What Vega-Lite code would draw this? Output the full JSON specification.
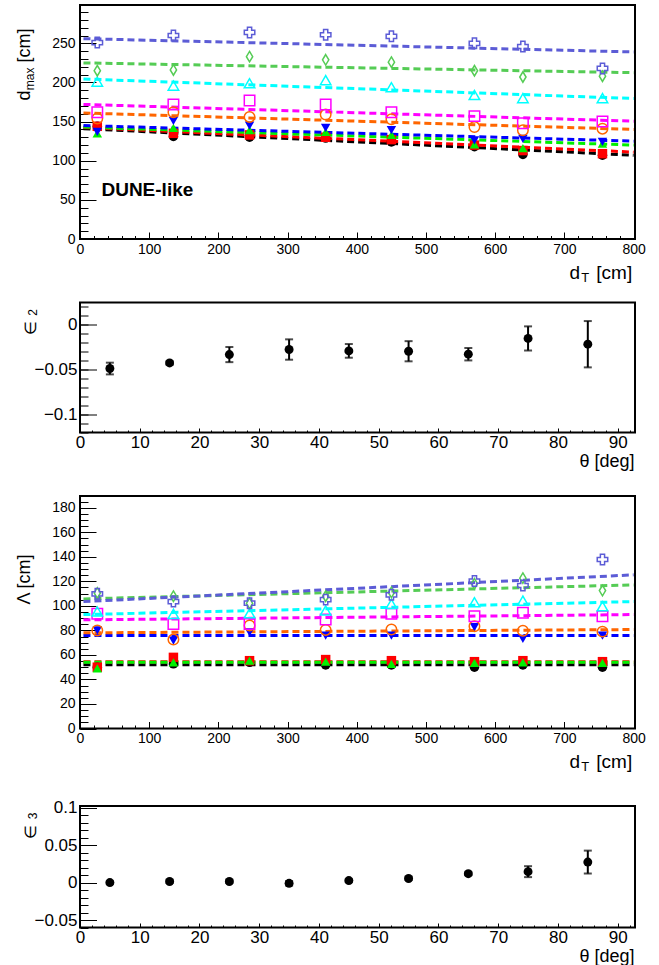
{
  "$schema": "https://vega.github.io/schema/vega-lite/v6.json",
  "padding": {"left": 14, "top": 4, "right": 0, "bottom": 0},
  "bounds": "full",
  "spacing": 22,
  "config": {
    "font": "Liberation Sans",
    "view": {"stroke": "black", "strokeWidth": 2},
    "axis": {"labelFont": "Liberation Sans", "titleFont": "Liberation Sans", "labelColor": "black", "titleColor": "black", "tickColor": "black", "tickWidth": 1, "grid": false, "domain": false, "labelFlush": false, "labelOverlap": false, "titleFontWeight": "normal"}
  },
  "datasets": {
    "dmax": [
      {"s":"5°","x":25,"y":144},{"s":"5°","x":135,"y":131},{"s":"5°","x":245,"y":130},{"s":"5°","x":355,"y":129},{"s":"5°","x":450,"y":124},{"s":"5°","x":570,"y":118},{"s":"5°","x":640,"y":108},{"s":"5°","x":755,"y":107},
      {"s":"15°","x":25,"y":144},{"s":"15°","x":135,"y":135},{"s":"15°","x":245,"y":133},{"s":"15°","x":355,"y":130},{"s":"15°","x":450,"y":127},{"s":"15°","x":570,"y":120},{"s":"15°","x":640,"y":113},{"s":"15°","x":755,"y":109},
      {"s":"25°","x":25,"y":135},{"s":"25°","x":135,"y":142},{"s":"25°","x":245,"y":139},{"s":"25°","x":355,"y":137},{"s":"25°","x":450,"y":133},{"s":"25°","x":570,"y":121},{"s":"25°","x":640,"y":116},{"s":"25°","x":755,"y":122},
      {"s":"35°","x":25,"y":137},{"s":"35°","x":135,"y":151},{"s":"35°","x":245,"y":145},{"s":"35°","x":355,"y":142},{"s":"35°","x":450,"y":139},{"s":"35°","x":570,"y":126},{"s":"35°","x":640,"y":128},{"s":"35°","x":755,"y":124},
      {"s":"45°","x":25,"y":154},{"s":"45°","x":135,"y":162},{"s":"45°","x":245,"y":156},{"s":"45°","x":355,"y":159},{"s":"45°","x":450,"y":153},{"s":"45°","x":570,"y":143},{"s":"45°","x":640,"y":139},{"s":"45°","x":755,"y":141},
      {"s":"55°","x":25,"y":162},{"s":"55°","x":135,"y":172},{"s":"55°","x":245,"y":177},{"s":"55°","x":355,"y":172},{"s":"55°","x":450,"y":162},{"s":"55°","x":570,"y":157},{"s":"55°","x":640,"y":148},{"s":"55°","x":755,"y":150},
      {"s":"65°","x":25,"y":201},{"s":"65°","x":135,"y":196},{"s":"65°","x":245,"y":199},{"s":"65°","x":355,"y":203},{"s":"65°","x":450,"y":194},{"s":"65°","x":570,"y":184},{"s":"65°","x":640,"y":180},{"s":"65°","x":755,"y":180},
      {"s":"75°","x":25,"y":215},{"s":"75°","x":135,"y":216},{"s":"75°","x":245,"y":233},{"s":"75°","x":355,"y":229},{"s":"75°","x":450,"y":226},{"s":"75°","x":570,"y":215},{"s":"75°","x":640,"y":207},{"s":"75°","x":755,"y":208},
      {"s":"85°","x":25,"y":251},{"s":"85°","x":135,"y":260},{"s":"85°","x":245,"y":264},{"s":"85°","x":355,"y":261},{"s":"85°","x":450,"y":259},{"s":"85°","x":570,"y":250},{"s":"85°","x":640,"y":246},{"s":"85°","x":755,"y":218}
    ],
    "dmaxfit": [
      {"s":"5°","x":5,"y":141},{"s":"5°","x":800,"y":107},
      {"s":"15°","x":5,"y":142.5},{"s":"15°","x":800,"y":111},
      {"s":"25°","x":5,"y":143},{"s":"25°","x":800,"y":120},
      {"s":"35°","x":5,"y":145},{"s":"35°","x":800,"y":125},
      {"s":"45°","x":5,"y":161},{"s":"45°","x":800,"y":140},
      {"s":"55°","x":5,"y":172},{"s":"55°","x":800,"y":150.5},
      {"s":"65°","x":5,"y":204.5},{"s":"65°","x":800,"y":179.5},
      {"s":"75°","x":5,"y":225},{"s":"75°","x":800,"y":212.5},
      {"s":"85°","x":5,"y":256},{"s":"85°","x":800,"y":239}
    ],
    "lambda": [
      {"s":"5°","x":25,"y":50},{"s":"5°","x":135,"y":52.7},{"s":"5°","x":245,"y":54},{"s":"5°","x":355,"y":51.8},{"s":"5°","x":450,"y":51.8},{"s":"5°","x":570,"y":50},{"s":"5°","x":640,"y":51.8},{"s":"5°","x":755,"y":50},
      {"s":"15°","x":25,"y":50},{"s":"15°","x":135,"y":58},{"s":"15°","x":245,"y":55.3},{"s":"15°","x":355,"y":56.2},{"s":"15°","x":450,"y":55.3},{"s":"15°","x":570,"y":54.5},{"s":"15°","x":640,"y":55.3},{"s":"15°","x":755,"y":54.5},
      {"s":"25°","x":25,"y":49},{"s":"25°","x":135,"y":54},{"s":"25°","x":245,"y":55.3},{"s":"25°","x":355,"y":54.5},{"s":"25°","x":450,"y":52.7},{"s":"25°","x":570,"y":53.5},{"s":"25°","x":640,"y":54},{"s":"25°","x":755,"y":53.5},
      {"s":"35°","x":25,"y":80},{"s":"35°","x":135,"y":71.7},{"s":"35°","x":245,"y":78.5},{"s":"35°","x":355,"y":75.8},{"s":"35°","x":450,"y":75.8},{"s":"35°","x":570,"y":82.6},{"s":"35°","x":640,"y":73},{"s":"35°","x":755,"y":75.8},
      {"s":"45°","x":25,"y":80},{"s":"45°","x":135,"y":72.5},{"s":"45°","x":245,"y":84},{"s":"45°","x":355,"y":80.4},{"s":"45°","x":450,"y":80.7},{"s":"45°","x":570,"y":83.4},{"s":"45°","x":640,"y":79.8},{"s":"45°","x":755,"y":79},
      {"s":"55°","x":25,"y":93.5},{"s":"55°","x":135,"y":85.3},{"s":"55°","x":245,"y":85.3},{"s":"55°","x":355,"y":88.8},{"s":"55°","x":450,"y":93.5},{"s":"55°","x":570,"y":91.6},{"s":"55°","x":640,"y":94.3},{"s":"55°","x":755,"y":91.6},
      {"s":"65°","x":25,"y":95.4},{"s":"65°","x":135,"y":93.5},{"s":"65°","x":245,"y":94},{"s":"65°","x":355,"y":96.2},{"s":"65°","x":450,"y":101.6},{"s":"65°","x":570,"y":103},{"s":"65°","x":640,"y":104.3},{"s":"65°","x":755,"y":99.7},
      {"s":"75°","x":25,"y":110.6},{"s":"75°","x":135,"y":107.9},{"s":"75°","x":245,"y":102},{"s":"75°","x":355,"y":107.9},{"s":"75°","x":450,"y":111},{"s":"75°","x":570,"y":118},{"s":"75°","x":640,"y":122.6},{"s":"75°","x":755,"y":112.5},
      {"s":"85°","x":25,"y":109.8},{"s":"85°","x":135,"y":103.5},{"s":"85°","x":245,"y":102.2},{"s":"85°","x":355,"y":105.1},{"s":"85°","x":450,"y":109},{"s":"85°","x":570,"y":120.2},{"s":"85°","x":640,"y":116.6},{"s":"85°","x":755,"y":137.8}
    ],
    "lambdafit": [
      {"s":"5°","x":5,"y":52},{"s":"5°","x":800,"y":52},
      {"s":"15°","x":5,"y":54.5},{"s":"15°","x":800,"y":54.5},
      {"s":"25°","x":5,"y":54},{"s":"25°","x":800,"y":54},
      {"s":"35°","x":5,"y":75.8},{"s":"35°","x":800,"y":75.8},
      {"s":"45°","x":5,"y":78},{"s":"45°","x":800,"y":80.7},
      {"s":"55°","x":5,"y":88.6},{"s":"55°","x":800,"y":92.9},
      {"s":"65°","x":5,"y":92.9},{"s":"65°","x":800,"y":103.5},
      {"s":"75°","x":5,"y":105.7},{"s":"75°","x":800,"y":117.1},
      {"s":"85°","x":5,"y":103.5},{"s":"85°","x":800,"y":125.3}
    ],
    "eps2": [
      {"theta":5,"v":-0.049,"err":0.0065},{"theta":15,"v":-0.0428,"err":0.002},{"theta":25,"v":-0.0335,"err":0.0084},{"theta":35,"v":-0.0279,"err":0.0113},{"theta":45,"v":-0.0294,"err":0.0076},{"theta":55,"v":-0.0298,"err":0.0112},{"theta":65,"v":-0.0331,"err":0.0069},{"theta":75,"v":-0.0156,"err":0.0134},{"theta":85,"v":-0.022,"err":0.0257}
    ],
    "eps3": [
      {"theta":5,"v":0.0,"err":0.002},{"theta":15,"v":0.0014,"err":0.002},{"theta":25,"v":0.0014,"err":0.002},{"theta":35,"v":-0.001,"err":0.003},{"theta":45,"v":0.0027,"err":0.002},{"theta":55,"v":0.0055,"err":0.002},{"theta":65,"v":0.0119,"err":0.002},{"theta":75,"v":0.0146,"err":0.0073},{"theta":85,"v":0.0274,"err":0.0153}
    ]
  },
  "vconcat": [
    {
      "bounds": "flush",
      "spacing": 63.5,
      "vconcat": [
        {
          "width": 555, "height": 234,
          "resolve": {"axis": {"x": "independent", "y": "independent"}},
          "layer": [
            {
              "data": {"name": "dmaxfit"},
              "mark": {"type": "line", "strokeWidth": 3, "strokeDash": [7, 4]},
              "encoding": {
                "x": {"field": "x", "type": "quantitative", "scale": {"domain": [0, 802], "nice": false, "zero": false},
                  "axis": {"orient": "bottom", "values": [0,100,200,300,400,500,600,700,800], "format": "d", "tickSize": -7, "labelPadding": 10, "labelFontSize": 14, "title": "d", "titleFontSize": 19, "titleAlign": "right", "titleBaseline": "alphabetic", "titleAngle": 0, "titleX": 499.7, "titleY": 39}},
                "y": {"field": "y", "type": "quantitative", "scale": {"domain": [0, 299], "nice": false, "zero": false},
                  "axis": {"orient": "left", "values": [0,50,100,150,200,250], "format": "d", "tickSize": -16, "labelPadding": 21, "labelFontSize": 14, "title": "d", "titleFontSize": 18, "titleAlign": "right", "titleBaseline": "alphabetic", "titleAngle": 270, "titleX": -51, "titleY": 85}},
                "color": {"field": "s", "type": "nominal", "legend": null,
                  "scale": {"domain": ["5°","15°","25°","35°","45°","55°","65°","75°","85°"], "range": ["#000000","#ff0000","#00f000","#0000ff","#ff6600","#ff00ff","#00ffff","#55cc55","#5c5cd6"]}}
              }
            },
            {
              "data": {"name": "dmax"},
              "transform": [{"filter": {"field": "s", "oneOf": ["5°","15°","25°","35°"]}}],
              "mark": {"type": "point", "filled": true, "size": 90, "opacity": 1},
              "encoding": {
                "x": {"field": "x", "type": "quantitative", "scale": {"domain": [0, 802], "nice": false, "zero": false},
                  "axis": {"orient": "bottom", "values": [0,20,40,60,80,100,120,140,160,180,200,220,240,260,280,300,320,340,360,380,400,420,440,460,480,500,520,540,560,580,600,620,640,660,680,700,720,740,760,780,800], "tickSize": -3.5, "labels": false, "title": "[cm]", "titleFontSize": 19, "titleAlign": "right", "titleBaseline": "alphabetic", "titleAngle": 0, "titleX": 551.7, "titleY": 39}},
                "y": {"field": "y", "type": "quantitative", "scale": {"domain": [0, 299], "nice": false, "zero": false},
                  "axis": {"orient": "left", "values": [0,10,20,30,40,50,60,70,80,90,100,110,120,130,140,150,160,170,180,190,200,210,220,230,240,250,260,270,280,290], "tickSize": -8, "labels": false, "title": "[cm]", "titleFontSize": 18, "titleAlign": "right", "titleBaseline": "alphabetic", "titleAngle": 270, "titleX": -51, "titleY": 23}},
                "color": {"field": "s", "type": "nominal", "legend": null,
                  "scale": {"domain": ["5°","15°","25°","35°","45°","55°","65°","75°","85°"], "range": ["#000000","#ff0000","#00f000","#0000ff","#ff6600","#ff00ff","#00ffff","#55cc55","#5c5cd6"]}},
                "shape": {"field": "s", "type": "nominal", "legend": null,
                  "scale": {"domain": ["5°","15°","25°","35°","45°","55°","65°","75°","85°"], "range": ["circle","square","triangle-up","triangle-down","circle","square","triangle-up","M0,-1L0.6,0L0,1L-0.6,0Z","cross"]}}
              }
            },
            {
              "data": {"name": "dmax"},
              "transform": [{"filter": {"field": "s", "oneOf": ["45°","55°","65°","75°","85°"]}}],
              "mark": {"type": "point", "filled": false, "size": 110, "strokeWidth": 1.5, "opacity": 1},
              "encoding": {
                "x": {"field": "x", "type": "quantitative", "scale": {"domain": [0, 802], "nice": false, "zero": false},
                  "axis": {"orient": "bottom", "ticks": false, "labels": false, "title": "T", "titleFontSize": 13, "titleAlign": "left", "titleBaseline": "alphabetic", "titleAngle": 0, "titleX": 500.7, "titleY": 42}},
                "y": {"field": "y", "type": "quantitative", "scale": {"domain": [0, 299], "nice": false, "zero": false},
                  "axis": {"orient": "left", "ticks": false, "labels": false, "title": "max", "titleFontSize": 12, "titleAlign": "right", "titleBaseline": "alphabetic", "titleAngle": 270, "titleX": -47, "titleY": 62}},
                "color": {"field": "s", "type": "nominal", "legend": null,
                  "scale": {"domain": ["5°","15°","25°","35°","45°","55°","65°","75°","85°"], "range": ["#000000","#ff0000","#00f000","#0000ff","#ff6600","#ff00ff","#00ffff","#55cc55","#5c5cd6"]}},
                "shape": {"field": "s", "type": "nominal", "legend": null,
                  "scale": {"domain": ["5°","15°","25°","35°","45°","55°","65°","75°","85°"], "range": ["circle","square","triangle-up","triangle-down","circle","square","triangle-up","M0,-1L0.6,0L0,1L-0.6,0Z","cross"]}}
              }
            },
            {
              "data": {"values": [{"label": "DUNE-like"}]},
              "mark": {"type": "text", "font": "Liberation Sans", "fontSize": 19, "fontWeight": "bold", "align": "left", "baseline": "alphabetic", "color": "black"},
              "encoding": {
                "text": {"field": "label", "type": "nominal"},
                "x": {"datum": 31, "type": "quantitative", "scale": {"domain": [0, 802], "nice": false, "zero": false}, "axis": null},
                "y": {"datum": 55, "type": "quantitative", "scale": {"domain": [0, 299], "nice": false, "zero": false}, "axis": null}
              }
            }
          ]
        },
        {
          "width": 555, "height": 130,
          "resolve": {"axis": {"x": "independent", "y": "independent"}},
          "data": {"name": "eps2"},
          "layer": [
            {
              "mark": {"type": "errorbar", "ticks": {"size": 8, "thickness": 2}, "thickness": 2, "color": "black"},
              "encoding": {
                "x": {"field": "theta", "type": "quantitative", "scale": {"domain": [0, 92.9], "nice": false, "zero": false},
                  "axis": {"orient": "bottom", "values": [0,10,20,30,40,50,60,70,80,90], "format": "d", "tickSize": -4.5, "labelPadding": 6.5, "labelFontSize": 17, "title": "θ [deg]", "titleFontSize": 18, "titleAlign": "right", "titleBaseline": "alphabetic", "titleAngle": 0, "titleX": 554, "titleY": 34}},
                "y": {"field": "v", "type": "quantitative", "scale": {"domain": [-0.12, 0.0243], "nice": false, "zero": false},
                  "axis": {"orient": "left", "values": [-0.1, -0.05, 0], "format": ".2~f", "tickSize": -16.5, "labelPadding": 19.5, "labelFontSize": 17, "title": "∈", "titleFontSize": 16, "titleAlign": "right", "titleBaseline": "alphabetic", "titleAngle": 270, "titleX": -45, "titleY": 18}},
                "yError": {"field": "err"}
              }
            },
            {
              "mark": {"type": "point", "filled": true, "size": 80, "color": "black", "opacity": 1},
              "encoding": {
                "x": {"field": "theta", "type": "quantitative", "scale": {"domain": [0, 92.9], "nice": false, "zero": false},
                  "axis": {"orient": "bottom", "values": [0,2,4,6,8,10,12,14,16,18,20,22,24,26,28,30,32,34,36,38,40,42,44,46,48,50,52,54,56,58,60,62,64,66,68,70,72,74,76,78,80,82,84,86,88,90,92], "tickSize": -2.5, "labels": false, "title": null}},
                "y": {"field": "v", "type": "quantitative", "scale": {"domain": [-0.12, 0.0243], "nice": false, "zero": false},
                  "axis": {"orient": "left", "values": [-0.12,-0.11,-0.1,-0.09,-0.08,-0.07,-0.06,-0.05,-0.04,-0.03,-0.02,-0.01,0,0.01,0.02], "tickSize": -8, "labels": false, "title": "2", "titleFontSize": 12, "titleAlign": "right", "titleBaseline": "alphabetic", "titleAngle": 270, "titleX": -44, "titleY": 6}}
              }
            }
          ]
        },
        {
          "width": 555, "height": 232.5,
          "resolve": {"axis": {"x": "independent", "y": "independent"}},
          "layer": [
            {
              "data": {"name": "lambdafit"},
              "mark": {"type": "line", "strokeWidth": 3, "strokeDash": [7, 4]},
              "encoding": {
                "x": {"field": "x", "type": "quantitative", "scale": {"domain": [0, 802], "nice": false, "zero": false},
                  "axis": {"orient": "bottom", "values": [0,100,200,300,400,500,600,700,800], "format": "d", "tickSize": -7, "labelPadding": 10, "labelFontSize": 14, "title": "d", "titleFontSize": 19, "titleAlign": "right", "titleBaseline": "alphabetic", "titleAngle": 0, "titleX": 499.7, "titleY": 39}},
                "y": {"field": "y", "type": "quantitative", "scale": {"domain": [0, 189.6], "nice": false, "zero": false},
                  "axis": {"orient": "left", "values": [0,20,40,60,80,100,120,140,160,180], "format": "d", "tickSize": -16, "labelPadding": 21, "labelFontSize": 14, "title": "Λ [cm]", "titleFontSize": 18, "titleAlign": "right", "titleBaseline": "alphabetic", "titleAngle": 270, "titleX": -51, "titleY": 58}},
                "color": {"field": "s", "type": "nominal", "legend": null,
                  "scale": {"domain": ["5°","15°","25°","35°","45°","55°","65°","75°","85°"], "range": ["#000000","#ff0000","#00f000","#0000ff","#ff6600","#ff00ff","#00ffff","#55cc55","#5c5cd6"]}}
              }
            },
            {
              "data": {"name": "lambda"},
              "transform": [{"filter": {"field": "s", "oneOf": ["5°","15°","25°","35°"]}}],
              "mark": {"type": "point", "filled": true, "size": 90, "opacity": 1},
              "encoding": {
                "x": {"field": "x", "type": "quantitative", "scale": {"domain": [0, 802], "nice": false, "zero": false},
                  "axis": {"orient": "bottom", "values": [0,20,40,60,80,100,120,140,160,180,200,220,240,260,280,300,320,340,360,380,400,420,440,460,480,500,520,540,560,580,600,620,640,660,680,700,720,740,760,780,800], "tickSize": -3.5, "labels": false, "title": "[cm]", "titleFontSize": 19, "titleAlign": "right", "titleBaseline": "alphabetic", "titleAngle": 0, "titleX": 551.7, "titleY": 39}},
                "y": {"field": "y", "type": "quantitative", "scale": {"domain": [0, 189.6], "nice": false, "zero": false},
                  "axis": {"orient": "left", "values": [0,5,10,15,20,25,30,35,40,45,50,55,60,65,70,75,80,85,90,95,100,105,110,115,120,125,130,135,140,145,150,155,160,165,170,175,180,185], "tickSize": -8, "labels": false, "title": null}},
                "color": {"field": "s", "type": "nominal", "legend": null,
                  "scale": {"domain": ["5°","15°","25°","35°","45°","55°","65°","75°","85°"], "range": ["#000000","#ff0000","#00f000","#0000ff","#ff6600","#ff00ff","#00ffff","#55cc55","#5c5cd6"]}},
                "shape": {"field": "s", "type": "nominal", "legend": null,
                  "scale": {"domain": ["5°","15°","25°","35°","45°","55°","65°","75°","85°"], "range": ["circle","square","triangle-up","triangle-down","circle","square","triangle-up","M0,-1L0.6,0L0,1L-0.6,0Z","cross"]}}
              }
            },
            {
              "data": {"name": "lambda"},
              "transform": [{"filter": {"field": "s", "oneOf": ["45°","55°","65°","75°","85°"]}}],
              "mark": {"type": "point", "filled": false, "size": 110, "strokeWidth": 1.5, "opacity": 1},
              "encoding": {
                "x": {"field": "x", "type": "quantitative", "scale": {"domain": [0, 802], "nice": false, "zero": false},
                  "axis": {"orient": "bottom", "ticks": false, "labels": false, "title": "T", "titleFontSize": 13, "titleAlign": "left", "titleBaseline": "alphabetic", "titleAngle": 0, "titleX": 500.7, "titleY": 42}},
                "y": {"field": "y", "type": "quantitative", "scale": {"domain": [0, 189.6], "nice": false, "zero": false}, "axis": null},
                "color": {"field": "s", "type": "nominal", "legend": null,
                  "scale": {"domain": ["5°","15°","25°","35°","45°","55°","65°","75°","85°"], "range": ["#000000","#ff0000","#00f000","#0000ff","#ff6600","#ff00ff","#00ffff","#55cc55","#5c5cd6"]}},
                "shape": {"field": "s", "type": "nominal", "legend": null,
                  "scale": {"domain": ["5°","15°","25°","35°","45°","55°","65°","75°","85°"], "range": ["circle","square","triangle-up","triangle-down","circle","square","triangle-up","M0,-1L0.6,0L0,1L-0.6,0Z","cross"]}}
              }
            }
          ]
        }
      ]
    },
    {
      "width": 555, "height": 121.5,
      "resolve": {"axis": {"x": "independent", "y": "independent"}},
      "data": {"name": "eps3"},
      "layer": [
        {
          "mark": {"type": "errorbar", "ticks": {"size": 8, "thickness": 2}, "thickness": 2, "color": "black"},
          "encoding": {
            "x": {"field": "theta", "type": "quantitative", "scale": {"domain": [0, 92.9], "nice": false, "zero": false},
              "axis": {"orient": "bottom", "values": [0,10,20,30,40,50,60,70,80,90], "format": "d", "tickSize": -4.5, "labelPadding": 6.5, "labelFontSize": 17, "title": "θ [deg]", "titleFontSize": 18, "titleAlign": "right", "titleBaseline": "alphabetic", "titleAngle": 0, "titleX": 554, "titleY": 33.5}},
            "y": {"field": "v", "type": "quantitative", "scale": {"domain": [-0.06, 0.1023], "nice": false, "zero": false},
              "axis": {"orient": "left", "values": [-0.05, 0, 0.05, 0.1], "format": ".2~f", "tickSize": -16.5, "labelPadding": 19.5, "labelFontSize": 17, "title": "∈", "titleFontSize": 16, "titleAlign": "right", "titleBaseline": "alphabetic", "titleAngle": 270, "titleX": -45, "titleY": 18}},
            "yError": {"field": "err"}
          }
        },
        {
          "mark": {"type": "point", "filled": true, "size": 80, "color": "black", "opacity": 1},
          "encoding": {
            "x": {"field": "theta", "type": "quantitative", "scale": {"domain": [0, 92.9], "nice": false, "zero": false},
              "axis": {"orient": "bottom", "values": [0,2,4,6,8,10,12,14,16,18,20,22,24,26,28,30,32,34,36,38,40,42,44,46,48,50,52,54,56,58,60,62,64,66,68,70,72,74,76,78,80,82,84,86,88,90,92], "tickSize": -2.5, "labels": false, "title": null}},
            "y": {"field": "v", "type": "quantitative", "scale": {"domain": [-0.06, 0.1023], "nice": false, "zero": false},
              "axis": {"orient": "left", "values": [-0.06,-0.05,-0.04,-0.03,-0.02,-0.01,0,0.01,0.02,0.03,0.04,0.05,0.06,0.07,0.08,0.09,0.1], "tickSize": -8, "labels": false, "title": "3", "titleFontSize": 12, "titleAlign": "right", "titleBaseline": "alphabetic", "titleAngle": 270, "titleX": -44, "titleY": 6}}
          }
        }
      ]
    }
  ]
}
